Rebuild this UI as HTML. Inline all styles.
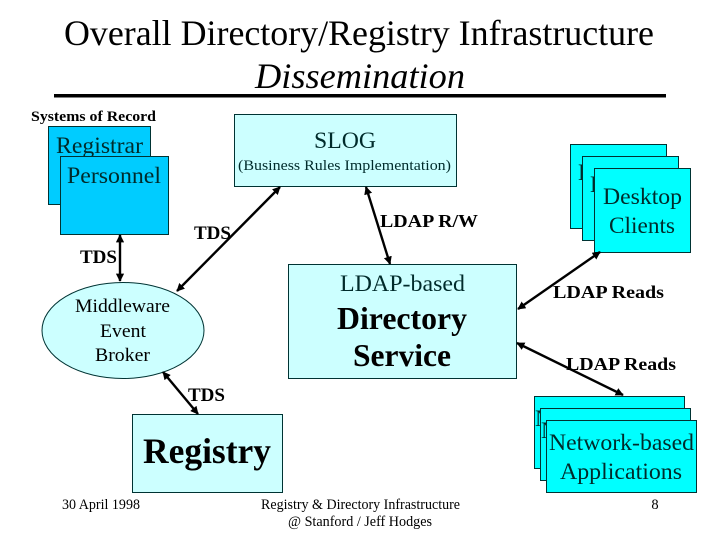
<!DOCTYPE html>
<html>
<head>
<meta charset="utf-8">
<style>
html,body{margin:0;padding:0;background:#fff;width:720px;height:540px;overflow:hidden}
svg{display:block}
text{font-family:"Liberation Serif",serif;fill:#000}
.t{fill:#002b2b}
</style>
</head>
<body>
<svg width="720" height="540" viewBox="0 0 720 540" xmlns="http://www.w3.org/2000/svg">
<defs>
<marker id="a" viewBox="0 0 10 10" refX="9" refY="5" markerWidth="3.4" markerHeight="3.4" orient="auto-start-reverse"><path d="M0 0L10 5L0 10z" fill="#000"/></marker>
</defs>
<text x="64" y="45" font-size="36" textLength="590" lengthAdjust="spacingAndGlyphs">Overall Directory/Registry Infrastructure</text>
<text x="255" y="88" font-size="36" font-style="italic" textLength="210" lengthAdjust="spacingAndGlyphs">Dissemination</text>
<rect x="54" y="94" width="612" height="3.5" fill="#000"/>
<text x="31" y="121" font-size="15" font-weight="bold" textLength="125" lengthAdjust="spacingAndGlyphs">Systems of Record</text>

<rect x="48.5" y="126.5" width="102" height="78" fill="#00ccff" stroke="#003333"/>
<text class="t" x="56" y="153" font-size="23" textLength="87" lengthAdjust="spacingAndGlyphs">Registrar</text>
<rect x="60.5" y="156.5" width="108" height="78" fill="#00ccff" stroke="#003333"/>
<text class="t" x="67" y="183" font-size="23" textLength="94" lengthAdjust="spacingAndGlyphs">Personnel</text>

<rect x="234.5" y="114.5" width="222" height="72" fill="#ccffff" stroke="#003333"/>
<text class="t" x="314" y="148" font-size="23" textLength="62" lengthAdjust="spacingAndGlyphs">SLOG</text>
<text class="t" x="238" y="170" font-size="15" textLength="213" lengthAdjust="spacingAndGlyphs">(Business Rules Implementation)</text>

<rect x="570.5" y="144.5" width="96" height="84" fill="#00ffff" stroke="#003333"/>
<text class="t" x="578" y="180" font-size="23">D</text>
<rect x="582.5" y="156.5" width="96" height="84" fill="#00ffff" stroke="#003333"/>
<text class="t" x="590" y="192" font-size="23">D</text>
<rect x="594.5" y="168.5" width="96" height="84" fill="#00ffff" stroke="#003333"/>
<text class="t" x="603" y="204" font-size="23" textLength="79" lengthAdjust="spacingAndGlyphs">Desktop</text>
<text class="t" x="609" y="233" font-size="23" textLength="66" lengthAdjust="spacingAndGlyphs">Clients</text>

<rect x="288.5" y="264.5" width="228" height="114" fill="#ccffff" stroke="#003333"/>
<text class="t" x="340" y="291" font-size="23" textLength="125" lengthAdjust="spacingAndGlyphs">LDAP-based</text>
<text x="337" y="329" font-size="32" font-weight="bold" textLength="130" lengthAdjust="spacingAndGlyphs">Directory</text>
<text x="353" y="366" font-size="32" font-weight="bold" textLength="98" lengthAdjust="spacingAndGlyphs">Service</text>

<ellipse cx="123" cy="330.5" rx="81" ry="48" fill="#ccffff" stroke="#003333"/>
<text x="75" y="312" font-size="19" textLength="95" lengthAdjust="spacingAndGlyphs">Middleware</text>
<text x="100" y="337" font-size="19" textLength="46" lengthAdjust="spacingAndGlyphs">Event</text>
<text x="95" y="361" font-size="19" textLength="55" lengthAdjust="spacingAndGlyphs">Broker</text>

<rect x="132.5" y="414.5" width="150" height="78" fill="#ccffff" stroke="#003333"/>
<text x="143" y="463" font-size="36" font-weight="bold" textLength="128" lengthAdjust="spacingAndGlyphs">Registry</text>

<rect x="534.5" y="396.5" width="150" height="72" fill="#00ffff" stroke="#003333"/>
<text class="t" x="535" y="426" font-size="23">N</text>
<rect x="540.5" y="408.5" width="150" height="72" fill="#00ffff" stroke="#003333"/>
<text class="t" x="541" y="438" font-size="23">N</text>
<rect x="546.5" y="420.5" width="150" height="72" fill="#00ffff" stroke="#003333"/>
<text class="t" x="549" y="450" font-size="23" textLength="145" lengthAdjust="spacingAndGlyphs">Network-based</text>
<text class="t" x="560" y="479" font-size="23" textLength="122" lengthAdjust="spacingAndGlyphs">Applications</text>

<g stroke="#000" stroke-width="2.4" fill="none" marker-start="url(#a)" marker-end="url(#a)">
<line x1="120" y1="235" x2="120" y2="281"/>
<line x1="280" y1="187" x2="177" y2="291"/>
<line x1="366" y1="187" x2="390" y2="264"/>
<line x1="163" y1="372" x2="198" y2="414"/>
<line x1="518" y1="309" x2="600" y2="252"/>
<line x1="517" y1="343" x2="623" y2="395"/>
</g>

<g font-size="19" font-weight="bold">
<text x="194" y="239" textLength="37" lengthAdjust="spacingAndGlyphs">TDS</text>
<text x="80" y="263" textLength="37" lengthAdjust="spacingAndGlyphs">TDS</text>
<text x="188" y="401" textLength="37" lengthAdjust="spacingAndGlyphs">TDS</text>
</g>
<g font-size="18" font-weight="bold">
<text x="380" y="227" textLength="98" lengthAdjust="spacingAndGlyphs">LDAP R/W</text>
<text x="553" y="298" textLength="111" lengthAdjust="spacingAndGlyphs">LDAP Reads</text>
<text x="566" y="370" textLength="110" lengthAdjust="spacingAndGlyphs">LDAP Reads</text>
</g>

<text x="62" y="509" font-size="14.5" textLength="78" lengthAdjust="spacingAndGlyphs">30 April 1998</text>
<text x="261" y="509" font-size="14.5" textLength="199" lengthAdjust="spacingAndGlyphs">Registry &amp; Directory Infrastructure</text>
<text x="288" y="526" font-size="14.5" textLength="144" lengthAdjust="spacingAndGlyphs">@ Stanford / Jeff Hodges</text>
<text x="655" y="509" font-size="14.5" text-anchor="middle">8</text>
</svg>
</body>
</html>
